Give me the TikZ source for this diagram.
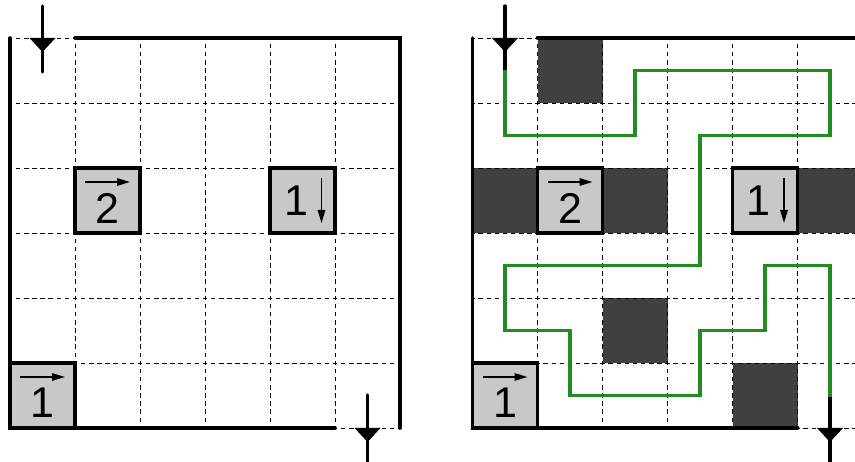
\documentclass[tikz,border=0pt]{standalone}
\usepackage{fontspec}
\setmainfont{Liberation Sans}
\usetikzlibrary{arrows.meta}
\definecolor{boxgray}{RGB}{200,200,200}
\definecolor{darkc}{RGB}{64,64,64}
\definecolor{pathgreen}{RGB}{34,139,34}
\newcommand{\digitfont}{\fontsize{43}{43}\selectfont}
\begin{document}
\begin{tikzpicture}[x=1pt,y=-1pt,
  wall/.style={line width=3.6pt,line cap=round},
  gridln/.style={line width=0.9pt,dash pattern=on 4.5pt off 3.625pt,dash phase=2.25pt},
  darkcell/.style={fill=darkc},
  boxnode/.style={draw,line width=3.4pt,fill=boxgray,minimum size=65pt,inner sep=0pt,rectangle},
  digit/.style={font=\digitfont,inner sep=0pt,anchor=base},
  smallarrow/.style={line width=1.5pt,-{Triangle[length=13pt,width=7.5pt]}},
  markline/.style={line width=3.4pt,line cap=round},
  route/.style={line width=3.2pt,draw=pathgreen}]
\useasboundingbox[fill=white] (0,0) rectangle (855,462);
% dark cells of the right grid
\begin{scope}[shift={(472.5,38)}]
  \foreach \c/\r in {1/0,0/2,2/2,5/2,2/4,4/5}
    \fill[darkcell] (65*\c,65*\r) rectangle (65*\c+65,65*\r+65);
\end{scope}
% common parts of both grids
\foreach \ox/\tg in {10/L,472.5/R}{
\begin{scope}[shift={(\ox,38)}]
  \foreach \i in {0,...,6}{
    \draw[gridln] (65*\i,0) -- (65*\i,390);
    \draw[gridln] (0,65*\i) -- (390,65*\i);
  }
  \draw[wall] (0,0) -- (0,390);
  \draw[wall] (65,0) -- (390,0) -- (390,390);
  \draw[wall] (0,390) -- (325,390);
  % boxes
  \node[boxnode] (b1\tg) at (32.5,357.5) {};
  \node[boxnode] (b2\tg) at (97.5,162.5) {};
  \node[boxnode] (b3\tg) at (292.5,162.5) {};
  \node[digit] (d1\tg) at ([shift={(0,22.5)}]b1\tg.center) {1};
  \draw[smallarrow] ([shift={(-22.5,-18.5)}]b1\tg.center) -- ([shift={(22.5,-18.5)}]b1\tg.center);
  \node[digit] (d2\tg) at ([shift={(0,23.5)}]b2\tg.center) {2};
  \draw[smallarrow] ([shift={(-22.5,-18.5)}]b2\tg.center) -- ([shift={(22.5,-18.5)}]b2\tg.center);
  \node[digit] (d3\tg) at ([shift={(-6.5,15.5)}]b3\tg.center) {1};
  \draw[smallarrow] ([shift={(19,-22.5)}]b3\tg.center) -- ([shift={(19,22.5)}]b3\tg.center);
  % entrance and exit marks
  \coordinate (in\tg) at (32.5,0);
  \coordinate (out\tg) at (357.5,390);
  \fill ([shift={(-13,0)}]in\tg) -- ([shift={(13,0)}]in\tg) -- ([shift={(0,14)}]in\tg) -- cycle;
  \fill ([shift={(-13,0)}]out\tg) -- ([shift={(13,0)}]out\tg) -- ([shift={(0,14)}]out\tg) -- cycle;
\end{scope}
}
% entrance/exit lines
\begin{scope}[shift={(10,38)}]
  \draw[markline] (32.5,-32) -- (32.5,34);
  \draw[markline] (357.5,357) -- (357.5,430);
\end{scope}
\begin{scope}[shift={(472.5,38)}]
  \draw[markline] (32.5,-32) -- (32.5,32);
  \draw[markline] (357.5,359) -- (357.5,430);
  \draw[route] (32.5,32) -- (32.5,97.5) -- (162.5,97.5) -- (162.5,32.5)
    -- (357.5,32.5) -- (357.5,97.5) -- (227.5,97.5) -- (227.5,227.5)
    -- (32.5,227.5) -- (32.5,292.5) -- (97.5,292.5) -- (97.5,357.5)
    -- (227.5,357.5) -- (227.5,292.5) -- (292.5,292.5) -- (292.5,227.5)
    -- (357.5,227.5) -- (357.5,359);
\end{scope}
\end{tikzpicture}
\end{document}
